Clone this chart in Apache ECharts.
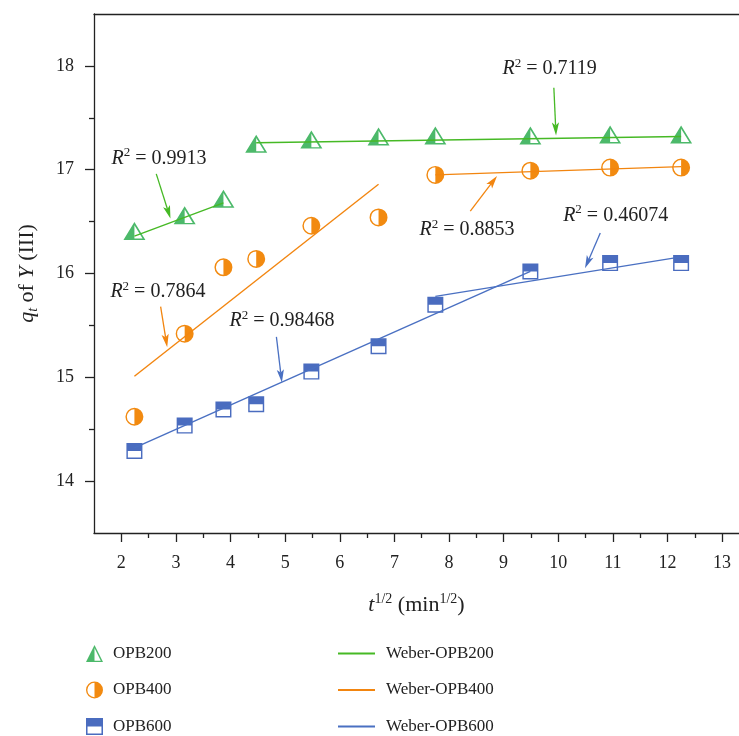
<!DOCTYPE html>
<html>
<head>
    <meta charset="utf-8">
    <title>Weber plot</title>
    <script src="https://cdn.jsdelivr.net/npm/echarts@6/dist/echarts.min.js"></script>
    <style>
        html, body { margin: 0; padding: 0; background: #fff; }
        #main { width: 739px; height: 736px; }
    </style>
</head>
<body>
<div id="main"></div>
<script>
    // t^1/2 values (min^1/2)
    var tVals = [2.24, 3.16, 3.87, 4.47, 5.48, 6.71, 7.75, 9.49, 10.95, 12.25];
    // qt of Y(III)
    var q200 = [16.41, 16.56, 16.72, 17.25, 17.29, 17.32, 17.33, 17.33, 17.34, 17.34];
    var q400 = [14.62, 15.42, 16.06, 16.14, 16.46, 16.54, 16.95, 16.99, 17.02, 17.02];
    var q600 = [14.29, 14.535, 14.69, 14.74, 15.055, 15.30, 15.70, 16.02, 16.10, 16.10];

    // Weber fit segments (end points)
    var fit200a = [[2.24, 16.36], [3.87, 16.68]];
    var fit200b = [[4.47, 17.26], [12.25, 17.32]];
    var fit400a = [[2.24, 15.01], [6.71, 16.86]];
    var fit400b = [[7.75, 16.95], [12.25, 17.03]];
    var fit600a = [[2.24, 14.32], [9.49, 16.02]];
    var fit600b = [[7.75, 15.78], [12.25, 16.16]];

    var xTicks = [2, 3, 4, 5, 6, 7, 8, 9, 10, 11, 12, 13];
    var xMinor = [2.5, 3.5, 4.5, 5.5, 6.5, 7.5, 8.5, 9.5, 10.5, 11.5, 12.5];
    var yTicks = [14, 15, 16, 17, 18];
    var yMinor = [14.5, 15.5, 16.5, 17.5];

    // R^2 notes: text, text anchor (left/middle), arrow from -> to
    var noteText = ['0.9913', '0.7119', '0.7864', '0.8853', '0.98468', '0.46074'];
    var noteAt = [[1.82, 17.11], [8.98, 17.97], [1.80, 15.82], [7.46, 16.42], [3.98, 15.54], [10.09, 16.56]];
    var noteFrom = [[2.64, 16.96], [9.92, 17.79], [2.72, 15.68], [8.39, 16.60], [4.84, 15.39], [10.77, 16.39]];
    var noteTo = [[2.90, 16.53], [9.96, 17.33], [2.84, 15.29], [8.88, 16.94], [4.94, 14.95], [10.49, 16.05]];

    var GREEN = '#4cb96a', GREEN_L = '#46b925';
    var ORANGE = '#f28a10', ORANGE_L = '#f2850f';
    var BLUE = '#4a6cbf', BLUE_L = '#4a70c2';
    var noteColor = [GREEN_L, GREEN_L, ORANGE_L, ORANGE_L, BLUE_L, BLUE_L];

    var FONT = '"Liberation Serif", "DejaVu Serif", serif';

    // half filled markers (one colour, the hollow half is a hole in the path)
    var triPath = 'path://M50,0 L100,100 L0,100 Z M50,17.9 L50,92 L87,92 Z';
    var circPath = 'path://M50,0 A50,50 0 1,1 50,100 A50,50 0 1,1 50,0 Z M50,8 A42,42 0 0,0 50,92 Z';
    var sqPath = 'path://M0,0 L100,0 L100,100 L0,100 Z M9,50 L9,91 L91,91 L91,50 Z';

    function pairs(xs, ys) {
        var out = [];
        for (var i = 0; i < xs.length; i++) {
            out.push([xs[i], ys[i]]);
        }
        return out;
    }

    var richTxt = {
        i: { fontStyle: 'italic', fontFamily: FONT, fontSize: 22, lineHeight: 26, color: '#222' },
        s: { fontFamily: FONT, fontSize: 14, lineHeight: 14, verticalAlign: 'top', color: '#222' },
        b: { fontStyle: 'italic', fontFamily: FONT, fontSize: 14, lineHeight: 14, verticalAlign: 'bottom', color: '#222' }
    };

    var chart = echarts.init(document.getElementById('main'));

    function lineSeries(name, data, color) {
        return {
            name: name,
            type: 'line',
            data: data,
            symbol: 'none',
            color: color,
            lineStyle: { color: color, width: 1.4 },
            z: 5,
            silent: true,
            animation: false
        };
    }

    var legendText = { fontFamily: FONT, fontSize: 17, lineHeight: 17, color: '#222' };

    var option = {
        backgroundColor: '#fff',
        animation: false,
        grid: { left: 94, right: 0, top: 14, bottom: 203 },
        legend: [{
            data: ['OPB200', 'OPB400', 'OPB600'],
            orient: 'vertical',
            left: 86,
            top: 645,
            padding: 0,
            itemWidth: 17,
            itemHeight: 17,
            itemGap: 19.5,
            textStyle: Object.assign({ padding: [0, 0, 0, 5] }, legendText)
        }, {
            data: [
                { name: 'Weber-OPB200', icon: 'rect' },
                { name: 'Weber-OPB400', icon: 'rect' },
                { name: 'Weber-OPB600', icon: 'rect' }
            ],
            orient: 'vertical',
            left: 338,
            top: 645,
            padding: 0,
            itemWidth: 37,
            itemHeight: 2,
            itemGap: 19.5,
            textStyle: Object.assign({ padding: [0, 0, 0, 6] }, legendText)
        }],
        xAxis: [{
            type: 'value',
            min: 1.5,
            max: 13.31,
            position: 'bottom',
            name: '{i|t}{s|1/2} (min{s|1/2})',
            nameLocation: 'middle',
            nameGap: 59,
            nameTextStyle: { fontFamily: FONT, fontSize: 22, lineHeight: 26, color: '#222', rich: richTxt },
            axisLine: { show: true, lineStyle: { color: '#222', width: 1.3 } },
            axisTick: { show: true, length: 9, customValues: xTicks, lineStyle: { color: '#222', width: 1.3 } },
            axisLabel: { customValues: xTicks, fontFamily: FONT, fontSize: 18, color: '#222', margin: 21 },
            splitLine: { show: false }
        }, {
            type: 'value',
            min: 1.5,
            max: 13.31,
            position: 'bottom',
            offset: 0,
            axisLine: { show: false },
            axisTick: { show: true, length: 5, customValues: xMinor, lineStyle: { color: '#222', width: 1.3 } },
            axisLabel: { show: false },
            splitLine: { show: false }
        }, {
            type: 'value',
            min: 1.5,
            max: 13.31,
            position: 'top',
            axisLine: { show: true, lineStyle: { color: '#222', width: 1.3 } },
            axisTick: { show: false },
            axisLabel: { show: false },
            splitLine: { show: false }
        }],
        yAxis: [{
            type: 'value',
            min: 13.5,
            max: 18.5,
            position: 'left',
            name: '{i|q}{b|t} of {i|Y} (III)',
            nameLocation: 'middle',
            nameGap: 54,
            nameTextStyle: { fontFamily: FONT, fontSize: 22, lineHeight: 26, color: '#222', rich: richTxt },
            axisLine: { show: true, lineStyle: { color: '#222', width: 1.3 } },
            axisTick: { show: true, length: 9, customValues: yTicks, lineStyle: { color: '#222', width: 1.3 } },
            axisLabel: { customValues: yTicks, fontFamily: FONT, fontSize: 18, color: '#222', margin: 20 },
            splitLine: { show: false }
        }, {
            type: 'value',
            min: 13.5,
            max: 18.5,
            position: 'left',
            offset: 0,
            axisLine: { show: false },
            axisTick: { show: true, length: 5, customValues: yMinor, lineStyle: { color: '#222', width: 1.3 } },
            axisLabel: { show: false },
            splitLine: { show: false }
        }],
        series: [{
            name: 'OPB200',
            type: 'scatter',
            data: pairs(tVals, q200),
            symbol: triPath,
            symbolSize: [22, 18],
            itemStyle: { color: GREEN, opacity: 1 },
            z: 3
        }, {
            name: 'OPB400',
            type: 'scatter',
            data: pairs(tVals, q400),
            symbol: circPath,
            symbolSize: 18,
            itemStyle: { color: ORANGE, opacity: 1 },
            z: 3
        }, {
            name: 'OPB600',
            type: 'scatter',
            data: pairs(tVals, q600),
            symbol: sqPath,
            symbolSize: [16, 16],
            itemStyle: { color: BLUE, opacity: 1 },
            z: 3
        },
            lineSeries('Weber-OPB200', fit200a, GREEN_L),
            lineSeries('Weber-OPB200', fit200b, GREEN_L),
            lineSeries('Weber-OPB400', fit400a, ORANGE_L),
            lineSeries('Weber-OPB400', fit400b, ORANGE_L),
            lineSeries('Weber-OPB600', fit600a, BLUE_L),
            lineSeries('Weber-OPB600', fit600b, BLUE_L)
        ]
    };
    chart.setOption(option);

    // R^2 notes with arrows, placed from data coordinates
    function drawNotes() {
        var g = [];
        for (var i = 0; i < noteText.length; i++) {
            var p1 = chart.convertToPixel({ gridIndex: 0 }, noteFrom[i]);
            var p2 = chart.convertToPixel({ gridIndex: 0 }, noteTo[i]);
            var dx = p2[0] - p1[0], dy = p2[1] - p1[1];
            var len = Math.sqrt(dx * dx + dy * dy);
            var ux = dx / len, uy = dy / len;
            var hl = 13, hw = 3.6;
            var bx = p2[0] - ux * hl, by = p2[1] - uy * hl;
            g.push({
                type: 'line', silent: true, z: 20,
                shape: { x1: p1[0], y1: p1[1], x2: bx + ux * 3, y2: by + uy * 3 },
                style: { stroke: noteColor[i], lineWidth: 1.3 }
            });
            g.push({
                type: 'polygon', silent: true, z: 20,
                shape: { points: [[p2[0], p2[1]], [bx - uy * hw, by + ux * hw], [bx + ux * 3, by + uy * 3], [bx + uy * hw, by - ux * hw]] },
                style: { fill: noteColor[i] }
            });
            var t = chart.convertToPixel({ gridIndex: 0 }, noteAt[i]);
            g.push({
                type: 'text', silent: true, z: 20,
                x: t[0], y: t[1],
                style: {
                    text: '{i|R}{s|2}{n| = ' + noteText[i] + '}',
                    verticalAlign: 'middle',
                    align: 'left',
                    rich: {
                        i: { fontStyle: 'italic', fontFamily: FONT, fontSize: 20, lineHeight: 24, fill: '#222' },
                        s: { fontFamily: FONT, fontSize: 13, lineHeight: 13, verticalAlign: 'top', fill: '#222' },
                        n: { fontFamily: FONT, fontSize: 20, lineHeight: 24, fill: '#222' }
                    }
                }
            });
        }
        chart.setOption({ graphic: g });
    }
    drawNotes();
</script>
</body>
</html>
